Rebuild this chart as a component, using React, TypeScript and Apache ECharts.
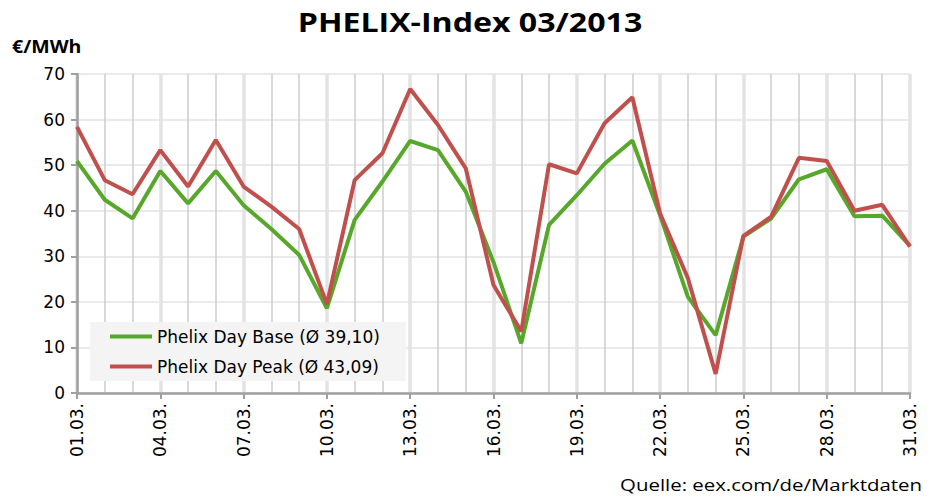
import React, { useEffect, useRef } from "react";
import * as echarts from "echarts";

const days: string[] = [
  "01.03.", "02.03.", "03.03.", "04.03.", "05.03.", "06.03.", "07.03.", "08.03.", "09.03.", "10.03.",
  "11.03.", "12.03.", "13.03.", "14.03.", "15.03.", "16.03.", "17.03.", "18.03.", "19.03.", "20.03.",
  "21.03.", "22.03.", "23.03.", "24.03.", "25.03.", "26.03.", "27.03.", "28.03.", "29.03.", "30.03.", "31.03.",
];

const baseValues: number[] = [
  50.9, 42.4, 38.3, 48.7, 41.6, 48.7, 41.2, 36.0, 30.3, 18.6,
  38.0, 46.4, 55.3, 53.3, 44.2, 28.7, 10.9, 36.9, 43.4, 50.3,
  55.4, 39.0, 21.1, 12.7, 34.3, 38.3, 46.9, 49.1, 38.8, 38.9, 32.3,
];

const peakValues: number[] = [
  58.4, 46.7, 43.6, 53.3, 45.3, 55.5, 45.3, 40.9, 36.0, 19.5,
  46.7, 52.6, 66.7, 58.8, 49.3, 23.7, 13.5, 50.2, 48.2, 59.2,
  64.9, 39.4, 25.2, 4.2, 34.5, 38.7, 51.6, 50.9, 40.0, 41.3, 32.1,
];

const seriesNames: string[] = ["Phelix Day Base (Ø 39,10)", "Phelix Day Peak (Ø 43,09)"];
const titleText = "PHELIX-Index 03/2013";
const unitText = "€/MWh";
const sourceText = "Quelle: eex.com/de/Marktdaten";

export default function App() {
  const ref = useRef<HTMLDivElement>(null);
  useEffect(() => {
    if (!ref.current) return;
    const chart = echarts.init(ref.current, null, { renderer: "svg" });
    const font = "DejaVu Sans";
    chart.setOption({
      animation: false,
      backgroundColor: "#ffffff",
      graphic: [
        {
          type: "text",
          x: 470,
          y: 22,
          scaleX: 1.19,
          style: {
            text: titleText,
            fontFamily: "Open Sans",
            fontWeight: "bold",
            fontSize: 27,
            fill: "#000",
            align: "center",
            verticalAlign: "middle",
          },
        },
        {
          type: "text",
          x: 12,
          y: 46,
          scaleX: 1.15,
          style: {
            text: unitText,
            fontFamily: "Open Sans",
            fontWeight: "bold",
            fontSize: 17,
            fill: "#000",
            align: "left",
            verticalAlign: "middle",
          },
        },
        {
          type: "text",
          x: 922,
          y: 484,
          scaleX: 1.2,
          style: {
            text: sourceText,
            fontFamily: "Open Sans",
            fontSize: 17,
            fill: "#000",
            align: "right",
            verticalAlign: "middle",
          },
        },
      ],
      legend: {
        orient: "vertical",
        left: 90,
        top: 322,
        backgroundColor: "#f4f4f4",
        padding: [6, 26, 6, 20],
        itemGap: 13,
        itemWidth: 42,
        itemHeight: 4,
        icon: "rect",
        textStyle: { fontFamily: font, fontSize: 17, color: "#000", padding: [0, 0, 0, 0] },
        data: seriesNames,
      },
      grid: { left: 77, right: 24, top: 74, bottom: 103, containLabel: false },
      xAxis: [
        {
          type: "category",
          data: days,
          boundaryGap: false,
          axisLine: { lineStyle: { color: "#a0a0a0", width: 2.5 } },
          axisTick: { show: true, interval: 2, length: 6, lineStyle: { color: "#a0a0a0", width: 2 } },
          axisLabel: { interval: 2, rotate: 90, fontFamily: font, fontSize: 17, color: "#000", margin: 10 },
          splitLine: {
            show: true,
            interval: (i: number) => i % 3 !== 0,
            lineStyle: { color: "#cccccc", width: 1.5 },
          },
          z: 1,
        },
        {
          type: "category",
          data: days,
          boundaryGap: false,
          position: "bottom",
          axisLine: { show: false },
          axisTick: { show: false },
          axisLabel: { show: false },
          splitLine: {
            show: true,
            interval: 2,
            lineStyle: { color: "#e3e3e3", width: 3.5 },
          },
          z: 0,
        },
      ],
      yAxis: {
        type: "value",
        min: 0,
        max: 70,
        interval: 10,
        axisLine: { show: true, lineStyle: { color: "#a0a0a0", width: 2.5 } },
        axisTick: { show: true, length: 6, lineStyle: { color: "#a0a0a0", width: 2 } },
        axisLabel: { fontFamily: font, fontSize: 17, color: "#000", margin: 12 },
        splitLine: { show: true, lineStyle: { color: "#e3e3e3", width: 1.5 } },
      },
      series: [
        {
          name: seriesNames[0],
          type: "line",
          data: baseValues,
          symbol: "none",
          lineStyle: { color: "#57a82a", width: 4 },
          itemStyle: { color: "#57a82a" },
          z: 3,
        },
        {
          name: seriesNames[1],
          type: "line",
          data: peakValues,
          symbol: "none",
          lineStyle: { color: "#c0504d", width: 4 },
          itemStyle: { color: "#c0504d" },
          z: 4,
        },
      ],
    });
    return () => chart.dispose();
  }, []);
  return (
    <div
      ref={ref}
      style={{ position: "fixed", left: 0, top: 0, width: 934, height: 496 }}
    />
  );
}
